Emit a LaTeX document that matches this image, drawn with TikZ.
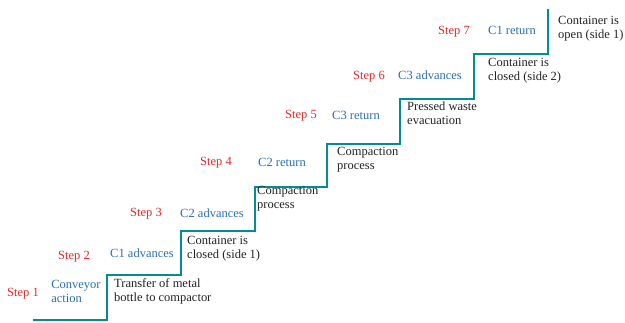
\documentclass[tikz,border=0pt]{standalone}
\usepackage{fontspec}
\setmainfont{Liberation Serif}
\usepackage{xcolor}
\definecolor{stairteal}{RGB}{0,142,142}
\definecolor{steped}{RGB}{228,42,42}
\definecolor{actblue}{RGB}{42,112,180}
\definecolor{descgray}{RGB}{35,35,35}

\begin{document}
\begin{tikzpicture}[x=1pt,y=-1pt,
  every node/.style={inner sep=0pt,font=\fontsize{12.5}{14}\selectfont,text height=8.5pt,text depth=2.5pt},
  steplbl/.style={text=steped},
  actlbl/.style={text=actblue,align=left},
  desclbl/.style={text=descgray,align=left,anchor=west},
  stair/.style={draw=stairteal,line width=2.8pt}]
  \useasboundingbox (0,0) rectangle (625,322);
  \draw[stair] (33,320) -| (107,275) -| (181,231) -| (255,187) -| (327,144)
    -| (400,99) -| (474,54) -| (548,9);
  \foreach \i/\sx/\sy/\ax/\ay/\act/\dx/\dy/\desc in {
      1/23/293/76/299.5/{Conveyor\\action}/114/298/{Transfer of metal\\bottle to compactor},
      2/74/256/142/254/{C1 advances}/187/255/{Container is\\closed (side 1)},
      3/146/213/212/214/{C2 advances}/257/205/{Compaction\\process},
      4/216/162/282/163/{C2 return}/337/166.5/{Compaction\\process},
      5/301/115/356/116/{C3 return}/407/121.5/{Pressed waste\\evacuation},
      6/369/76/430/76/{C3 advances}/488/77.5/{Container is\\closed (side 2)},
      7/454/31/512/31/{C1 return}/558/35.5/{Container is\\open (side 1)}} {
    \node[steplbl] (step\i) at (\sx,\sy) {Step \i};
    \node[actlbl] (act\i) at (\ax,\ay) {\act};
    \node[desclbl] (desc\i) at (\dx,\dy) {\desc};
  }
\end{tikzpicture}
\end{document}
